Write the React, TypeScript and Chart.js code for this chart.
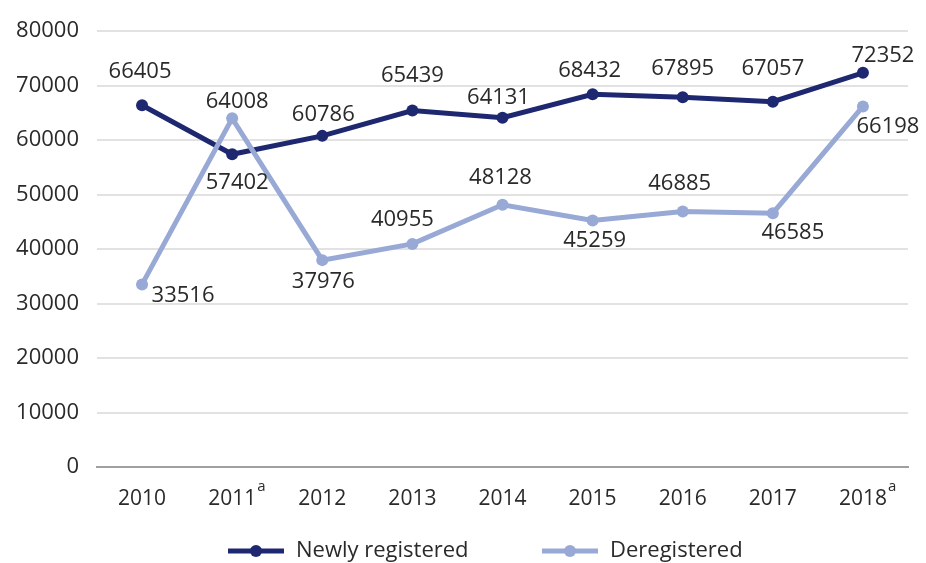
import React, { useEffect, useRef } from "react";
import { Chart, registerables } from "chart.js";

Chart.register(...registerables);

const years = ["2010", "2011", "2012", "2013", "2014", "2015", "2016", "2017", "2018"];
const yearNotes = ["", "a", "", "", "", "", "", "", "a"];
const newlyRegistered = [66405, 57402, 60786, 65439, 64131, 68432, 67895, 67057, 72352];
const deregistered = [33516, 64008, 37976, 40955, 48128, 45259, 46885, 46585, 66198];
const seriesNames = ["Newly registered", "Deregistered"];
const yTicks = { min: 0, max: 80000, step: 10000 };

// label offsets (dx, dy) relative to each point
const newlyLabelOffsets = [[-2, -34], [5, 28], [1, -21], [0, -35], [-4, -20], [-3, -23], [0, -28], [0, -33], [20, -17]];
const deregLabelOffsets = [[41, 11], [5, -17], [1, 22], [-10, -24], [-2, -27], [2, 20], [-3, -28], [20, 20], [25, 20]];

const NAVY = "#1e2870";
const LIGHT = "#98a9d6";
const TEXT = "#2a2a2a";
const FONT = "'Open Sans', 'Noto Sans', sans-serif";

export default function App() {
  const ref = useRef<HTMLCanvasElement | null>(null);

  useEffect(() => {
    document.body.style.margin = "0";
    const canvas = ref.current;
    if (!canvas) return;

    const labelPlugin = {
      id: "valueLabels",
      afterDatasetsDraw(chart: any) {
        const ctx = chart.ctx;
        ctx.save();
        ctx.font = `22px ${FONT}`;
        ctx.fillStyle = TEXT;
        ctx.textAlign = "center";
        ctx.textBaseline = "middle";
        const offs = [newlyLabelOffsets, deregLabelOffsets];
        chart.data.datasets.forEach((ds: any, di: number) => {
          const meta = chart.getDatasetMeta(di);
          meta.data.forEach((pt: any, i: number) => {
            const o = offs[di][i];
            ctx.fillText(String(ds.data[i]), pt.x + o[0], pt.y + o[1]);
          });
        });
        ctx.restore();
      },
    };

    const notePlugin = {
      id: "tickNotes",
      afterDraw(chart: any) {
        const ctx = chart.ctx;
        const xs = chart.scales.x;
        ctx.save();
        ctx.fillStyle = TEXT;
        years.forEach((y, i) => {
          if (!yearNotes[i]) return;
          ctx.font = `21px ${FONT}`;
          const w = ctx.measureText(y).width;
          const x = xs.getPixelForValue(i) + w / 2 + 1;
          ctx.font = `15px ${FONT}`;
          ctx.textAlign = "left";
          ctx.textBaseline = "middle";
          ctx.fillText(yearNotes[i], x, chart.chartArea.bottom + 20);
        });
        ctx.restore();
      },
    };

    const legendPlugin = {
      id: "customLegend",
      afterDraw(chart: any) {
        const ctx = chart.ctx;
        ctx.save();
        ctx.font = `22px ${FONT}`;
        ctx.textBaseline = "middle";
        ctx.textAlign = "left";
        const y = 551;
        const colors = [NAVY, LIGHT];
        const starts = [228, 542];
        seriesNames.forEach((name, i) => {
          const x0 = starts[i];
          ctx.strokeStyle = colors[i];
          ctx.lineWidth = 5;
          ctx.beginPath();
          ctx.moveTo(x0, y);
          ctx.lineTo(x0 + 56, y);
          ctx.stroke();
          ctx.fillStyle = colors[i];
          ctx.beginPath();
          ctx.arc(x0 + 28, y, 6, 0, Math.PI * 2);
          ctx.fill();
          ctx.fillStyle = TEXT;
          ctx.fillText(name, x0 + 68, y);
        });
        ctx.restore();
      },
    };

    const chart = new Chart(canvas, {
      type: "line",
      data: {
        labels: years,
        datasets: [
          {
            label: seriesNames[0],
            data: newlyRegistered,
            borderColor: NAVY,
            backgroundColor: NAVY,
            borderWidth: 5,
            pointRadius: 6,
            pointBackgroundColor: NAVY,
            pointBorderWidth: 0,
            tension: 0,
            order: 1,
          },
          {
            label: seriesNames[1],
            data: deregistered,
            borderColor: LIGHT,
            backgroundColor: LIGHT,
            borderWidth: 5,
            pointRadius: 6,
            pointBackgroundColor: LIGHT,
            pointBorderWidth: 0,
            tension: 0,
            order: 0,
          },
        ],
      },
      options: {
        responsive: false,
        animation: false,
        layout: { padding: { left: 0, right: 18, top: 28, bottom: 0 } },
        plugins: {
          legend: { display: false },
          title: { display: false },
          tooltip: { enabled: false },
        },
        scales: {
          x: {
            offset: true,
            grid: { display: false, drawTicks: false },
            border: { display: true, color: "#a0a0a0", width: 2 },
            ticks: {
              color: TEXT,
              font: { family: FONT, size: 21 },
              padding: 19,
              maxRotation: 0,
              autoSkip: false,
            },
            afterFit(scale: any) {
              scale.height = 96;
            },
          },
          y: {
            min: yTicks.min,
            max: yTicks.max,
            grid: { color: "#e2e2e2", lineWidth: 2, drawTicks: false },
            border: { display: false },
            ticks: {
              stepSize: yTicks.step,
              color: TEXT,
              font: { family: FONT, size: 22 },
              padding: 18,
              callback: (v: any) => String(v),
            },
            afterFit(scale: any) {
              scale.width = 97;
            },
          },
        },
      },
      plugins: [labelPlugin, notePlugin, legendPlugin],
    });

    return () => chart.destroy();
  }, []);

  return (
    <div style={{ position: "absolute", left: 0, top: 0, width: 926, height: 563, background: "#ffffff" }}>
      <canvas ref={ref} width={926} height={563} />
    </div>
  );
}
